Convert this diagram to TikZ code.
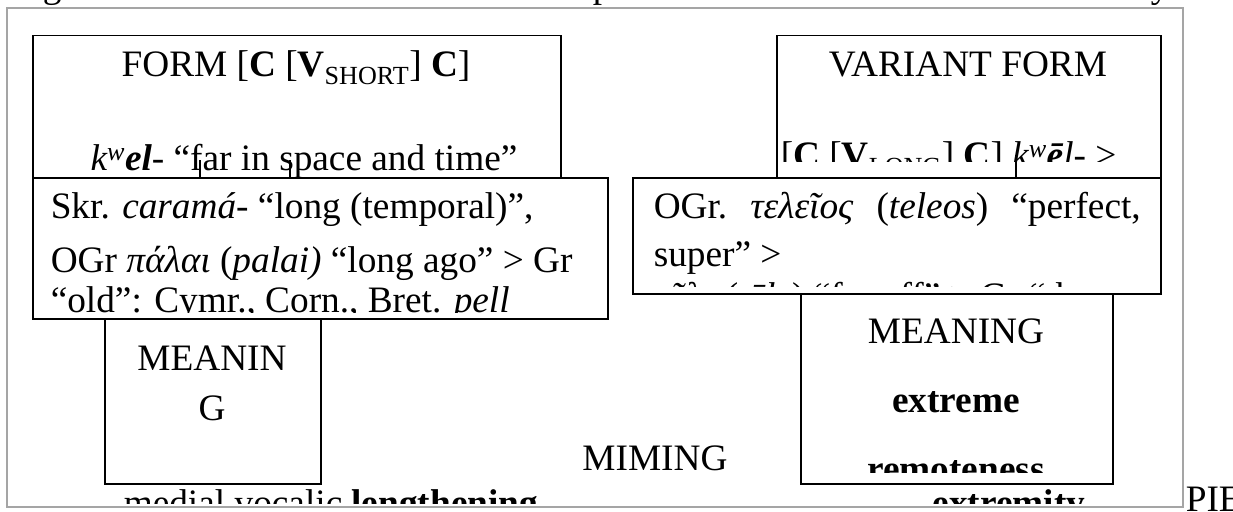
\documentclass[tikz,border=0pt]{standalone}
\usepackage{fontspec}
\setmainfont{Liberation Serif}
\usetikzlibrary{calc}
\definecolor{gray1}{RGB}{165, 165, 165}
\newcommand{\bigfont}{\fontsize{37.3}{44}\selectfont}

\begin{document}
\begin{tikzpicture}[x=1pt, y=-1pt, line width=1.5pt,
  box/.style={draw, fill=white, inner sep=0pt, anchor=north west},
  txt/.style={font=\bigfont, inner sep=0pt, anchor=base},
  ltxt/.style={font=\bigfont, inner sep=0pt, anchor=base west},
  tick/.style={line width=1.2pt}]
  \useasboundingbox (0,0) rectangle (1233,511);

  % tails of the line above the frame
  \begin{scope}
    \clip (0,0) rectangle (1233,7);
    \node[ltxt] (tailg) at (42,-2) {g};
    \node[ltxt] (tailp) at (592,-2) {p};
    \node[ltxt] (taily) at (1150,-2) {y};
  \end{scope}

  \draw[gray1] (7,8) rectangle (1183,507);

  % upper boxes
  \node[box, minimum width=528pt, minimum height=160pt] (form) at (32,35) {};
  \node[txt] (formA) at (296,76) {FORM [\textbf{C} [\textbf{V}\textsubscript{SHORT}] \textbf{C}]};
  \node[txt] (formB) at (304,170) {\textit{k\textsuperscript{w}\textbf{el}-} “far in space and time”};

  \node[box, minimum width=384pt, minimum height=160pt] (var) at (776,35) {};
  \node[txt] (varA) at (968,76) {VARIANT FORM};
  \begin{scope}
    \clip (776,35) rectangle (1160,161);
    \node[ltxt] (varB) at (780,167) {[\textbf{C} [\textbf{V}\textsubscript{LONG}] \textbf{C}] \textit{k\textsuperscript{w}\textbf{ē}l-} >};
  \end{scope}

  \coordinate (tickA) at (200,160);
  \coordinate (tickB) at (290,160);
  \coordinate (tickC) at (1016,155);
  \coordinate (lowtop) at (0,177);
  \foreach \t in {tickA,tickB,tickC}
    \draw[tick] (\t) -- (\t |- lowtop);

  % middle boxes
  \node[box, minimum width=575pt, minimum height=141pt] (skr) at (32,177) {};
  \begin{scope}
    \clip (32,177) rectangle (607,312.5);
    \node[ltxt] (skrA) at (50,218) {Skr. \textit{caramá}- “long (temporal)”,};
    \node[ltxt] (skrB) at (50,272) {OGr \textit{πάλαι} (\textit{palai)} “long ago” > Gr};
    \node[ltxt] (skrC) at (50,312) {“old”: Cymr., Corn., Bret. \textit{pell}};
  \end{scope}

  \node[box, minimum width=528pt, minimum height=116pt] (ogr) at (632,177) {};
  \begin{scope}
    \clip (632,177) rectangle (1160,286);
    \node[ltxt] (ogrA) at (653,218) {\hbox to 487pt{OGr.\hfill\textit{τελεῖος}\hfill(\textit{teleos})\hfill“perfect,}};
    \node[ltxt] (ogrB) at (653,266) {super” >};
    \node[ltxt] (ogrC) at (653,308) {\textit{τῆλε} (\textit{tēle}) “far off” > Gr “th};
  \end{scope}

  % lower boxes
  \node[box, minimum width=216pt, minimum height=165pt] (mean) at (104,318) {};
  \node[txt] (meanA) at (212,370) {MEANIN};
  \node[txt] (meanB) at (212,420) {G};

  \node[box, minimum width=312pt, minimum height=190pt] (extr) at (800,293) {};
  \node[txt] (extrA) at (956,343) {MEANING};
  \begin{scope}
    \clip (800,293) rectangle (1112,472);
    \node[txt] (extrB) at (956,412) {\textbf{extreme}};
    \node[txt] (extrC) at (956,481) {\textbf{remoteness}};
  \end{scope}

  \node[txt] (miming) at (655,470) {MIMING};

  % bottom line, cut off
  \begin{scope}
    \clip (8,400) rectangle (1182,503);
    \node[ltxt] (lenA) at (123,515) {medial vocalic \textbf{lengthening}};
    \node[ltxt] (lenB) at (932,515) {\textbf{extremity}};
  \end{scope}
  \node[ltxt] (pie) at (1185,511) {PIE};
\end{tikzpicture}
\end{document}
